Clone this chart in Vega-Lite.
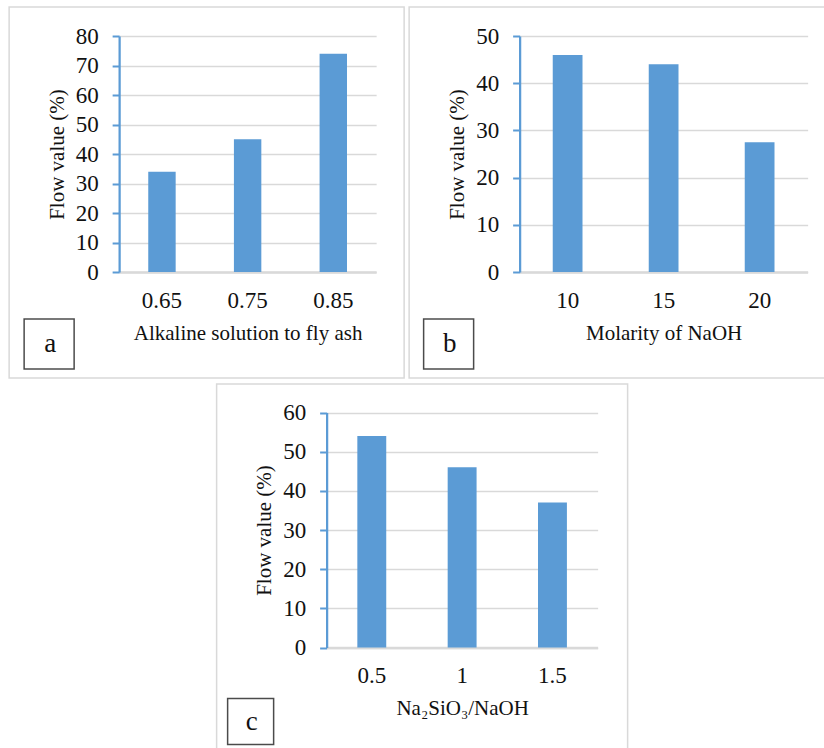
{
  "$schema": "https://vega.github.io/schema/vega-lite/v6.json",
  "padding": {"left": 8, "top": 6, "right": 0, "bottom": 0},
  "background": "white",
  "config": {
    "font": "Liberation Serif",
    "view": {"stroke": "#D9D9D9", "strokeWidth": 1.5},
    "bar": {"color": "#5B9BD5"},
    "point": {"filled": false, "color": "black", "strokeWidth": 1.5, "size": 0},
    "axis": {
      "labelFont": "Liberation Serif",
      "titleFont": "Liberation Serif",
      "labelColor": "#111111",
      "titleColor": "#111111",
      "titleFontWeight": "normal",
      "labelFontSize": 23,
      "titleFontSize": 21
    },
    "axisX": {
      "domainColor": "#D9D9D9",
      "domainWidth": 2.5,
      "ticks": false,
      "grid": false,
      "labelAngle": 0,
      "labelPadding": 17,
      "titlePadding": 10
    },
    "axisY": {
      "domainColor": "#5B9BD5",
      "domainWidth": 2.25,
      "tickColor": "#5B9BD5",
      "tickWidth": 2,
      "tickSize": 7,
      "gridColor": "#D9D9D9",
      "gridWidth": 1.5,
      "labelPadding": 14,
      "titlePadding": 8
    },
    "legend": {
      "orient": "none",
      "title": null,
      "padding": 0,
      "symbolType": "square",
      "symbolStrokeWidth": 1.5,
      "labelFont": "Liberation Serif",
      "labelFontSize": 27,
      "labelColor": "#111111",
      "labelAlign": "center"
    }
  },
  "resolve": {"scale": {"shape": "independent"}, "legend": {"shape": "independent"}},
  "center": true,
  "spacing": 4,
  "vconcat": [
    {
      "resolve": {"scale": {"shape": "independent"}, "legend": {"shape": "independent"}},
      "spacing": 3,
      "hconcat": [
        {
          "width": 395,
          "height": 371,
          "data": {"values": [
            {"panel": "a", "ratio": "0.65", "flow": 34},
            {"panel": "a", "ratio": "0.75", "flow": 45},
            {"panel": "a", "ratio": "0.85", "flow": 74}
          ]},
          "encoding": {
            "x": {
              "field": "ratio", "type": "ordinal", "sort": null,
              "scale": {"range": [110, 367], "paddingInner": 0.68, "paddingOuter": 0.34},
              "axis": {"title": "Alkaline solution to fly ash", "offset": -106}
            },
            "y": {
              "field": "flow", "type": "quantitative",
              "scale": {"domain": [0, 80], "nice": false, "range": [265, 29]},
              "axis": {"title": "Flow value (%)", "values": [0, 10, 20, 30, 40, 50, 60, 70, 80], "offset": -110}
            }
          },
          "layer": [
            {"mark": {"type": "bar"}},
            {
              "mark": {"type": "point"},
              "encoding": {
                "shape": {
                  "field": "panel", "type": "nominal",
                  "scale": {"range": ["square"]},
                  "legend": {"legendX": 14, "legendY": 311, "symbolSize": 2500, "labelOffset": -25}
                }
              }
            }
          ]
        },
        {
          "width": 426,
          "height": 371,
          "data": {"values": [
            {"panel": "b", "molarity": "10", "flow": 46},
            {"panel": "b", "molarity": "15", "flow": 44},
            {"panel": "b", "molarity": "20", "flow": 27.5}
          ]},
          "encoding": {
            "x": {
              "field": "molarity", "type": "ordinal", "sort": null,
              "scale": {"range": [110.5, 398.5], "paddingInner": 0.69, "paddingOuter": 0.345},
              "axis": {"title": "Molarity of NaOH", "offset": -106}
            },
            "y": {
              "field": "flow", "type": "quantitative",
              "scale": {"domain": [0, 50], "nice": false, "range": [265, 29]},
              "axis": {"title": "Flow value (%)", "values": [0, 10, 20, 30, 40, 50], "offset": -110.5}
            }
          },
          "layer": [
            {"mark": {"type": "bar"}},
            {
              "mark": {"type": "point"},
              "encoding": {
                "shape": {
                  "field": "panel", "type": "nominal",
                  "scale": {"range": ["square"]},
                  "legend": {"legendX": 13.5, "legendY": 311, "symbolSize": 2500, "labelOffset": -25}
                }
              }
            }
          ]
        }
      ]
    },
    {
      "width": 411,
      "height": 371,
      "data": {"values": [
        {"panel": "c", "ratio": "0.5", "flow": 54},
        {"panel": "c", "ratio": "1", "flow": 46},
        {"panel": "c", "ratio": "1.5", "flow": 37}
      ]},
      "encoding": {
        "x": {
          "field": "ratio", "type": "ordinal", "sort": null,
          "scale": {"range": [110, 381], "paddingInner": 0.68, "paddingOuter": 0.34},
          "axis": {"title": "Na₂SiO₃/NaOH", "offset": -107.5}
        },
        "y": {
          "field": "flow", "type": "quantitative",
          "scale": {"domain": [0, 60], "nice": false, "range": [263.5, 28.5]},
          "axis": {"title": "Flow value (%)", "values": [0, 10, 20, 30, 40, 50, 60], "offset": -110}
        }
      },
      "layer": [
        {"mark": {"type": "bar"}},
        {
          "mark": {"type": "point"},
          "encoding": {
            "shape": {
              "field": "panel", "type": "nominal",
              "scale": {"range": ["square"]},
              "legend": {"legendX": 10, "legendY": 313.5, "symbolSize": 2116, "labelOffset": -23}
            }
          }
        }
      ]
    }
  ]
}
